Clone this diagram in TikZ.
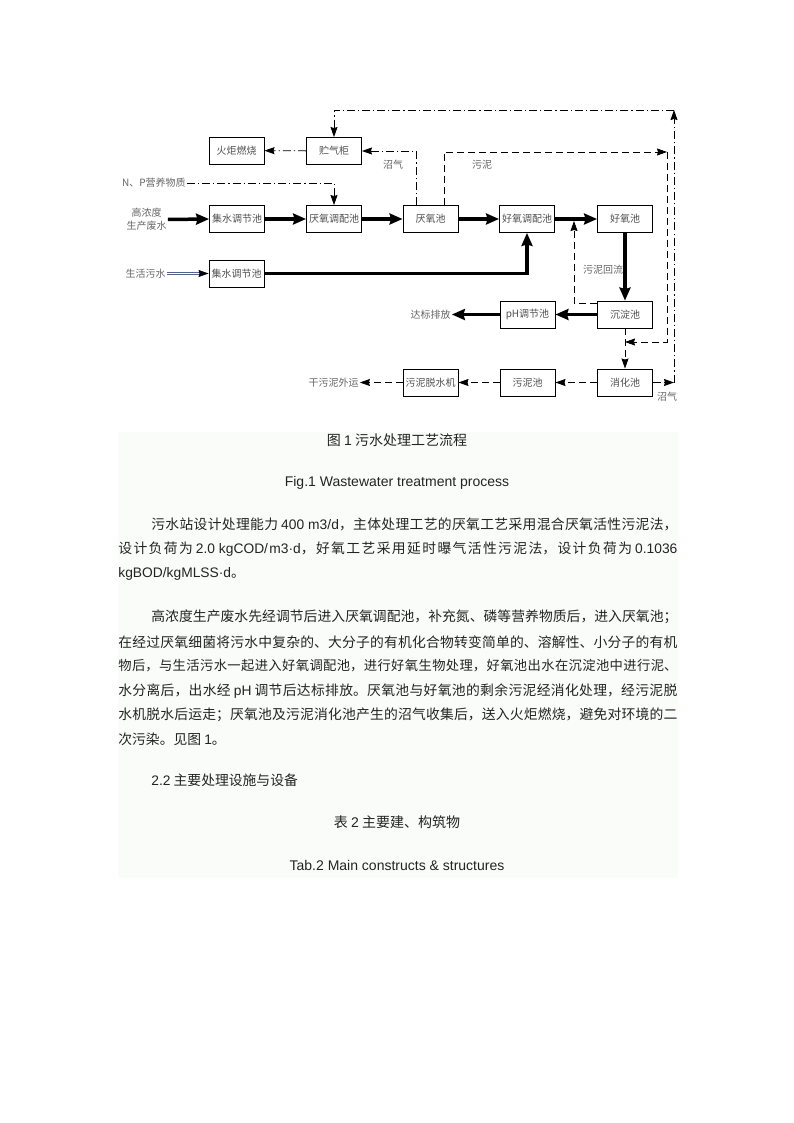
\documentclass[tikz,border=0pt]{standalone}
\usepackage{fontspec}
\setmainfont{Noto Sans CJK SC}
\newfontfamily\latinfont{Liberation Sans}
\usetikzlibrary{arrows.meta,calc}
\XeTeXlinebreaklocale "zh"
\XeTeXlinebreakskip=0pt plus 1fil

\definecolor{pagebg}{RGB}{250,252,250}
\definecolor{slate}{RGB}{80,100,140}
\definecolor{ink}{RGB}{35,35,35}

\newcommand{\fullline}[2]{\parbox{#1}{\parfillskip=0pt\noindent #2}}
\newcommand{\lat}[1]{{\latinfont #1}}

\tikzset{every picture/.style={line width=0.75pt},
	box/.style={draw, line width=0.9pt, minimum width=55pt, minimum height=27pt, inner sep=0pt, font=\fontsize{10}{12}\selectfont, text=ink!80},
	lbl/.style={inner sep=1pt, font=\fontsize{10}{13}\selectfont, text=ink!70},
	thintip/.style={-{Stealth[length=10pt,width=7pt,inset=1pt]}},
	flow/.style={line width=3.5pt, -{Stealth[length=13pt,width=11pt,inset=1.5pt]}},
	gasline/.style={thintip, line width=0.8pt, dash pattern=on 8pt off 3pt on 1.2pt off 3pt},
	mud/.style={thintip, line width=0.8pt, dash pattern=on 7pt off 4pt},
	sewage/.style={draw=slate, double=white, double distance=1.2pt, line width=0.7pt, -{Stealth[length=10pt,width=7pt,inset=1pt,color=black,fill=black]}},
	bodytext/.style={anchor=west, inner sep=0pt, font=\fontsize{13.8}{16}\selectfont, text=ink},
	captext/.style={inner sep=0pt, font=\fontsize{14}{16}\selectfont, text=ink}}

\begin{document}
\begin{tikzpicture}[x=1pt,y=-1pt,>=Stealth]
	\useasboundingbox (0,0) rectangle (794,1123);
	%nen
	\fill[pagebg] (118,432) rectangle (678,878);
	%hang 1
	\node[box] (fire) at (236.5,150.5) {火炬燃烧};
	\node[box] (tank) at (334,151) {贮气柜};
	%hang 2
	\node[box] (colA) at (237,219) {集水调节池};
	\node[box] (mixA) at (334,219) {厌氧调配池};
	\node[box] (anaer) at (430.5,219) {厌氧池};
	\node[box] (mixO) at (527,219) {好氧调配池};
	\node[box] (aero) at (625,219) {好氧池};
	%hang 3
	\node[box] (colB) at (236.5,273.5) {集水调节池};
	%hang 4
	\node[box] (ph) at (527.5,314.5) {pH调节池};
	\node[box] (settle) at (625,314.5) {沉淀池};
	%hang 5
	\node[box] (dewater) at (430.5,382.5) {污泥脱水机};
	\node[box] (sludge) at (527.5,382.5) {污泥池};
	\node[box] (digest) at (625,382.5) {消化池};
	%nhan
	\node[lbl, anchor=east] (np) at (187,183) {N、P营养物质};
	\node[lbl, align=center] (hi) at (146.5,219.5) {高浓度\\生产废水};
	\node[lbl, anchor=east] (life) at (167,273.5) {生活污水};
	\node[lbl] (gasA) at (393,165) {沼气};
	\node[lbl] (mudA) at (482,165) {污泥};
	\node[lbl] (ret) at (603,270) {污泥回流};
	\node[lbl] (out) at (430.5,314.5) {达标排放};
	\node[lbl] (dry) at (333.5,382.5) {干污泥外运};
	\node[lbl] (gasB) at (667,397) {沼气};
	%diem goc
	\coordinate (gasR) at (674,382.5);
	\coordinate (gasTR) at (674,110);
	\coordinate (mudTR) at (667,152);
	\coordinate (mudBR) at (667,342);
	\coordinate (retTop) at (574,221);
	%duong khi
	\draw[gasline] (tank) -- (fire);
	\draw[gasline] ([xshift=-14.5pt]anaer.north) |- (tank.east);
	\draw[gasline] (np.east) -| (mixA.north);
	\draw[gasline] (digest.east) -- (gasR);
	\draw[gasline] (gasR) -- (gasTR);
	\draw[gasline] (gasTR) -| (tank.north);
	%nuoc chinh
	\draw[flow] (hi.east) -- (colA.west);
	\draw[flow] (colA) -- (mixA);
	\draw[flow] (mixA) -- (anaer);
	\draw[flow] (anaer) -- (mixO);
	\draw[flow] (mixO) -- (aero);
	\draw[sewage] (life.east) -- (colB.west);
	\draw[flow] (colB.east) -| (mixO.south);
	\draw[flow] (aero) -- (settle);
	\draw[flow] (settle) -- (ph);
	\draw[flow] (ph.west) -- (out.east);
	%bun
	\draw[mud] ([xshift=13.5pt]anaer.north) |- (mudTR);
	\draw[mud] (mudTR) -- (mudBR) -- (settle.south |- mudBR);
	\draw[mud] (settle) -- (digest);
	\draw[mud] ([yshift=11.5pt]settle.west) -| (retTop);
	\draw[mud] (digest) -- (sludge);
	\draw[mud] (sludge) -- (dewater);
	\draw[mud] (dewater.west) -- (dry.east);
	%chu thich hinh
	\node[captext] (capA) at (397,440) {图 \lat{1} 污水处理工艺流程};
	\node[captext, font=\latinfont\fontsize{14}{16}\selectfont] (capB) at (397,483) {Fig.1 Wastewater treatment process};
	%doan 1
	\node[bodytext] (pa1) at (151,524) {\fullline{526pt}{污水站设计处理能力 \lat{400 m3/d}，主体处理工艺的厌氧工艺采用混合厌氧活性污泥法，}};
	\node[bodytext] (pa2) at (118,549) {\fullline{559pt}{设计负荷为 \lat{2.0 kgCOD/m3·d}，好氧工艺采用延时曝气活性污泥法，设计负荷为 \lat{0.1036}}};
	\node[bodytext] (pa3) at (118,574) {\lat{kgBOD/kgMLSS·d}。};
	%doan 2
	\node[bodytext] (pb1) at (151,617) {\fullline{526pt}{高浓度生产废水先经调节后进入厌氧调配池，补充氮、磷等营养物质后，进入厌氧池；}};
	\node[bodytext] (pb2) at (118,642) {\fullline{559pt}{在经过厌氧细菌将污水中复杂的、大分子的有机化合物转变简单的、溶解性、小分子的有机}};
	\node[bodytext] (pb3) at (118,666) {\fullline{559pt}{\fontsize{13.3}{16}\selectfont 物后，与生活污水一起进入好氧调配池，进行好氧生物处理，好氧池出水在沉淀池中进行泥、}};
	\node[bodytext] (pb4) at (118,691) {\fullline{559pt}{水分离后，出水经 \lat{pH} 调节后达标排放。厌氧池与好氧池的剩余污泥经消化处理，经污泥脱}};
	\node[bodytext] (pb5) at (118,715) {\fullline{559pt}{水机脱水后运走；厌氧池及污泥消化池产生的沼气收集后，送入火炬燃烧，避免对环境的二}};
	\node[bodytext] (pb6) at (118,739) {次污染。见图 \lat{1}。};
	%muc
	\node[bodytext] (sec) at (151,780) {\lat{2.2} 主要处理设施与设备};
	\node[captext] (capC) at (397,822) {表 \lat{2} 主要建、构筑物};
	\node[captext, font=\latinfont\fontsize{14}{16}\selectfont] (capD) at (397,865) {Tab.2 Main constructs \& structures};
\end{tikzpicture}
\end{document}
